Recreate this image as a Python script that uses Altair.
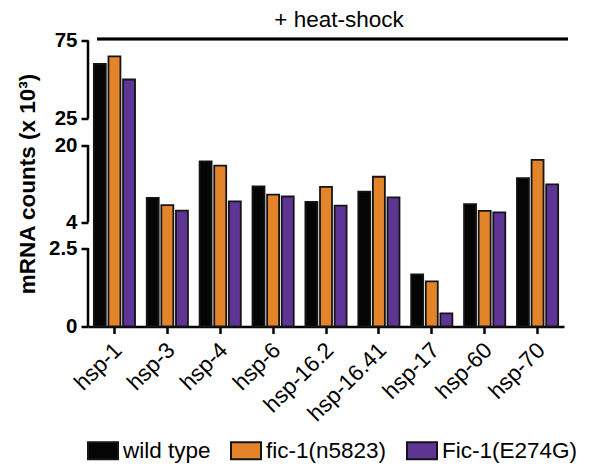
import altair as alt
import pandas as pd

genes = ["hsp-1", "hsp-3", "hsp-4", "hsp-6", "hsp-16.2", "hsp-16.41", "hsp-17", "hsp-60", "hsp-70"]
strains = ["wild type", "fic-1(n5823)", "Fic-1(E274G)"]
colors = ["#050505", "#E3832A", "#5E3594"]

wild_type = [60.0, 9.0, 16.6, 11.4, 8.2, 10.3, 1.66, 7.7, 13.1]
fic1_n5823 = [64.8, 7.5, 15.7, 9.7, 11.3, 13.4, 1.44, 6.3, 16.9]
fic1_e274g = [50.0, 6.35, 8.3, 9.3, 7.4, 9.1, 0.42, 6.0, 11.8]

y_ticks = [0, 2.5, 4, 20, 25, 75]
seg_lo = [0, 4, 25]
seg_hi = [2.5, 20, 75]

rows = []
for s, vals in zip(strains, [wild_type, fic1_n5823, fic1_e274g]):
    for g, v in zip(genes, vals):
        rows.append({"gene": g, "strain": s, "value": v})
df = pd.DataFrame(rows)
segs = pd.DataFrame({"lo": seg_lo, "hi": seg_hi})

H = 286
W = 476
yscale = alt.Scale(type="linear", domain=y_ticks,
                   range=[H, 207.5, 181.5, 104.5, 78, 0], zero=False, nice=False)
yaxis = alt.Axis(values=y_ticks, labelExpr="'' + datum.value", domain=False, grid=False,
                 ticks=True, tickSize=7, tickWidth=2.5, tickColor="black",
                 labelFontSize=20.5, labelFontWeight="bold", labelColor="black", labelPadding=4,
                 title="mRNA counts (x 10³)", titleFontSize=22.5, titleFontWeight="bold",
                 titleColor="black", titlePadding=9)

bars = alt.Chart(df).mark_bar(stroke="#151515", strokeWidth=1.8).encode(
    x=alt.X("gene:N", sort=genes,
            scale=alt.Scale(paddingInner=0, paddingOuter=0),
            axis=alt.Axis(title=None, labelAngle=315, labelFontSize=22.5, labelColor="black",
                          labelPadding=5, labelOffset=-4, tickSize=7, tickWidth=2.5,
                          tickColor="black", domainWidth=2.5, domainColor="black", grid=False)),
    xOffset=alt.XOffset("strain:N", sort=strains,
                        scale=alt.Scale(paddingInner=0.18, paddingOuter=0.4)),
    y=alt.Y("value:Q", scale=yscale, axis=yaxis),
    color=alt.Color("strain:N", sort=strains,
                    scale=alt.Scale(domain=strains, range=colors),
                    legend=alt.Legend(orient="none", legendX=-1, legendY=394,
                                      direction="horizontal", title=None,
                                      symbolType="M-1,-0.567H1V0.567H-1Z", symbolSize=900,
                                      symbolStrokeColor="#151515", symbolStrokeWidth=2,
                                      symbolOpacity=1,
                                      labelFontSize=22.5, labelColor="black",
                                      labelOffset=4, columnPadding=16)),
)

axis_segments = alt.Chart(segs).mark_rule(color="black", strokeWidth=2.5).encode(
    x=alt.value(0),
    y=alt.Y("lo:Q", scale=yscale, axis=yaxis),
    y2="hi:Q",
)

top_line = alt.Chart(segs).mark_rule(color="black", strokeWidth=2.5).encode(
    x=alt.value(9), x2=alt.value(480), y=alt.value(-1.5)
)

chart = alt.layer(bars, axis_segments, top_line).properties(
    width=W, height=H,
    title=alt.TitleParams("+ heat-shock", fontSize=22.5, fontWeight="normal",
                          anchor="middle", dx=13, offset=-1, color="black"),
    autosize=alt.AutoSizeParams(type="none"),
    padding={"left": 88, "top": 40.5, "right": 25, "bottom": 143.5},
).configure(font="Liberation Sans").configure_view(stroke=None)

chart.save("out.html", embed_options={"renderer": "svg", "actions": False})
